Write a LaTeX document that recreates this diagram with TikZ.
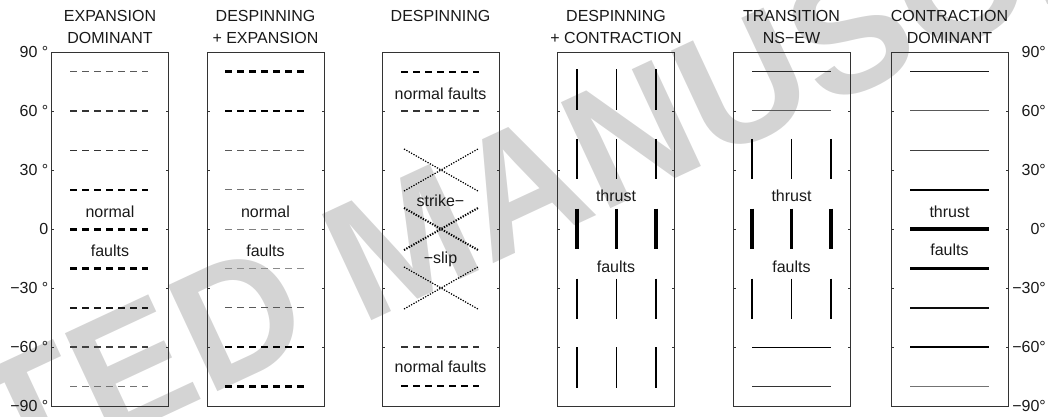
\documentclass[tikz,border=0pt]{standalone}
\usepackage{fontspec}
\setmainfont{Liberation Sans}
\begin{document}
\begin{tikzpicture}[x=1pt,y=1pt,line cap=butt,
  frame/.style={draw=black!80,line width=0.9pt},
  tick/.style={draw=black!80,line width=0.9pt},
  dsh/.style={dash pattern=on 7.2pt off 4.8pt},
  dots/.style={dash pattern=on 1.3pt off 1.4pt},
  lab/.style={font=\fontsize{16}{19}\selectfont,inner sep=0pt,text=black!90},
  ttl/.style={lab,anchor=base}]
\useasboundingbox (0,0) rectangle (1048,416);
% watermark
\begin{scope}
\clip (0,0) rectangle (1048,416);
\node[rotate=25,text=black!17,font=\fontsize{170}{170}\selectfont\bfseries,inner sep=0pt] (wm) at (405,176) {ACCEPTED MANUSCRIPT};
\end{scope}
% titles
\node[ttl] (t1a) at (110,394) {EXPANSION};
\node[ttl] (t1b) at (110,372) {DOMINANT};
\node[ttl] (t2a) at (265.5,394) {DESPINNING};
\node[ttl] (t2b) at (265.5,372) {+ EXPANSION};
\node[ttl] (t3a) at (440.5,394) {DESPINNING};
\node[ttl] (t4a) at (616,394) {DESPINNING};
\node[ttl] (t4b) at (616,372) {+ CONTRACTION};
\node[ttl] (t5a) at (791.5,394) {TRANSITION};
\node[ttl] (t5b) at (791.5,372) {NS−EW};
\node[ttl] (t6a) at (949.5,394) {CONTRACTION};
\node[ttl] (t6b) at (949.5,372) {DOMINANT};
% panel texts
\node[ttl] (p1n) at (110,199) {normal};
\node[ttl] (p1f) at (110,160) {faults};
\node[ttl] (p2n) at (265.5,199) {normal};
\node[ttl] (p2f) at (265.5,160) {faults};
\node[ttl] (p3n) at (440.5,317) {normal faults};
\node[ttl] (p3s) at (440.5,210) {strike−};
\node[ttl] (p3l) at (440.5,153) {−slip};
\node[ttl] (p3m) at (440.5,44) {normal faults};
\node[ttl] (p4t) at (616,215) {thrust};
\node[ttl] (p4f) at (616,144) {faults};
\node[ttl] (p5t) at (791.5,215) {thrust};
\node[ttl] (p5f) at (791.5,144) {faults};
\node[ttl] (p6t) at (949.5,199) {thrust};
\node[ttl] (p6f) at (949.5,161) {faults};
\begin{scope}[shift={(0,187)},y=1.9667pt]
% frames and ticks
\foreach \L in {51,207,382,557,733,891}{
  \draw[frame] (\L,-90) rectangle ({\L+117.5},90);
  \foreach \d in {-60,-30,0,30,60}{
    \draw[tick] (\L,\d) -- ++(3,0);
    \draw[tick] ({\L+117.5},\d) -- ++(-3,0);
  }
}
% axis labels
\node[lab,anchor=east] (l90) at (48.5,90) {90 °};
\node[lab,anchor=east] (l60) at (48.5,60) {60 °};
\node[lab,anchor=east] (l30) at (48.5,30) {30 °};
\node[lab,anchor=east] (l0) at (48.5,0) {0};
\node[lab,anchor=east] (lm30) at (48.5,-30) {−30 °};
\node[lab,anchor=east] (lm60) at (48.5,-60) {−60 °};
\node[lab,anchor=east] (lm90) at (48.5,-90) {−90 °};
\node[lab,anchor=east] (r90) at (1046,90) {90°};
\node[lab,anchor=east] (r60) at (1046,60) {60°};
\node[lab,anchor=east] (r30) at (1046,30) {30°};
\node[lab,anchor=east] (r0) at (1046,0) {0°};
\node[lab,anchor=east] (rm30) at (1046,-30) {−30°};
\node[lab,anchor=east] (rm60) at (1046,-60) {−60°};
\node[lab,anchor=east] (rm90) at (1046,-90) {−90°};
% panel 1
\foreach \d/\w/\c in {80/0.9/65,60/1.1/80,40/1.5/80,20/2.2/100,0/3/100,-20/2.5/100,-40/1.8/90,-60/1.2/75,-80/1.0/55}
  \draw[dsh,line width=\w,draw=black!\c] (70,\d) -- (148,\d);
% panel 2
\foreach \d/\w/\c in {80/2.6/100,60/2.1/100,40/1.0/65,20/0.9/55,0/0.9/50,-20/0.9/45,-40/1.0/65,-60/2.1/100,-80/2.6/100}
  \draw[dsh,line width=\w,draw=black!\c] (225,\d) -- (305,\d);
% panel 3
\draw[dsh,line width=2.2] (401,80) -- (479,80);
\draw[dsh,line width=1.2,draw=black!80] (401,60) -- (479,60);
\draw[dsh,line width=1.2,draw=black!80] (401,-60) -- (479,-60);
\draw[dsh,line width=2.2] (401,-80) -- (479,-80);
\foreach \c/\w in {30/1.2,0/2.0,-30/1.2}{
  \draw[dots,line width=\w] (404,\c+10.7) -- (478,\c-10.7);
  \draw[dots,line width=\w] (404,\c-10.7) -- (478,\c+10.7);
}
% panel 4
\foreach \c/\w in {71/1.2,35.5/1.8,0/3.2,-35.5/1.8,-70.5/1.2}
  \foreach \x in {577,616.5,656}
    \draw[line width=\w] (\x,\c+10.3) -- (\x,\c-10.3);
% panel 5
\foreach \d/\c in {80/85,60/65,-60/100,-80/80}
  \draw[line width=1.0,draw=black!\c] (752,\d) -- (831,\d);
\foreach \c/\w in {35.5/1.8,0/3.2,-35.5/1.8}
  \foreach \x in {752,791.5,831}
    \draw[line width=\w] (\x,\c+10.3) -- (\x,\c-10.3);
% panel 6
\foreach \d/\w/\c in {80/1.2/90,60/1.0/65,40/1.5/75,20/2.2/100,0/3.2/100,-20/2.6/100,-40/1.7/95,-60/1.2/100,-80/1.2/55}
  \draw[line width=\w,draw=black!\c] (910,\d) -- (989,\d);
\end{scope}
\end{tikzpicture}
\end{document}
